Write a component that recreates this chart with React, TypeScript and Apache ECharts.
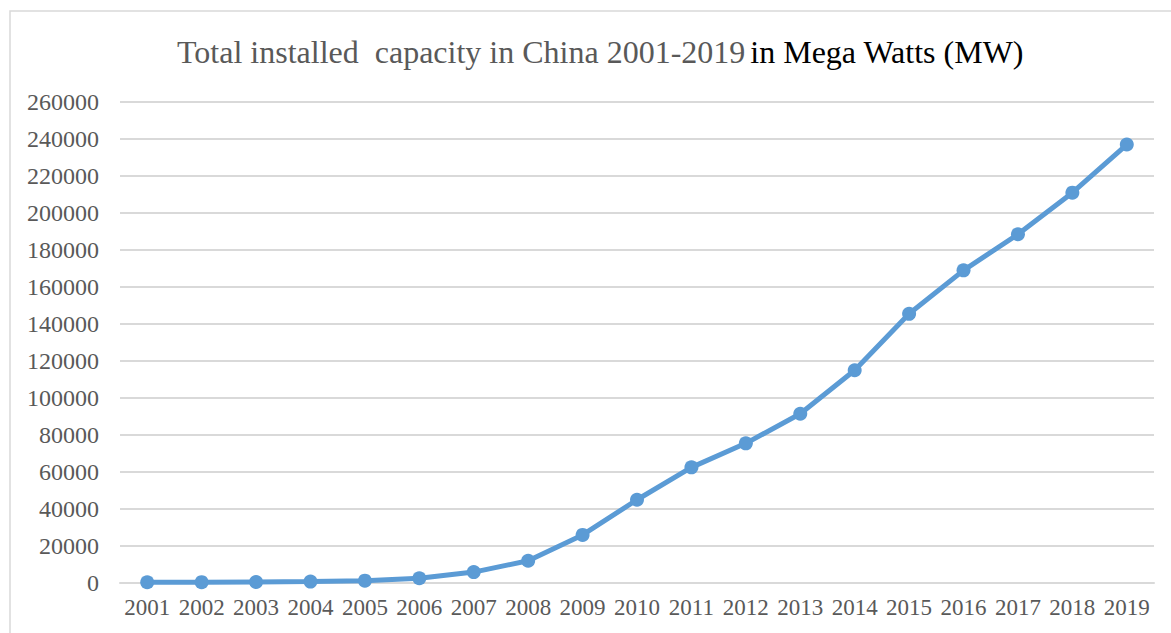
import React, { useEffect, useRef } from "react";
import * as echarts from "echarts";

// Installed capacity, MW, by year
const years = [
  "2001", "2002", "2003", "2004", "2005", "2006", "2007", "2008", "2009", "2010",
  "2011", "2012", "2013", "2014", "2015", "2016", "2017", "2018", "2019",
];
const capacityMW = [
  400, 470, 570, 760, 1260, 2600, 5900, 12000, 26000, 45000,
  62500, 75500, 91500, 115000, 145500, 169000, 188500, 211000, 237000,
];
const yMin = 0;
const yMax = 260000;
const yStep = 20000;

const titleMain = "Total installed  capacity in China 2001-2019";
const titleUnit = "in Mega Watts (MW)";

const FONT = "'Liberation Serif', 'Times New Roman', serif";
const GREY = "#595959";

export default function App() {
  const ref = useRef<HTMLDivElement>(null);

  useEffect(() => {
    if (!ref.current) return;
    const chart = echarts.init(ref.current, null, { renderer: "svg" });
    chart.setOption({
      animation: false,
      backgroundColor: "#ffffff",
      title: {
        text: `{a|${titleMain}} {b|${titleUnit}}`,
        left: 172,
        top: 31,
        textStyle: {
          rich: {
            a: { fontFamily: FONT, fontSize: 32, fontWeight: "normal", color: GREY },
            b: { fontFamily: FONT, fontSize: 32, fontWeight: "normal", color: "#000000" },
          },
        },
      },
      graphic: [
        {
          type: "rect",
          shape: { x: 10, y: 11, width: 1180, height: 640 },
          style: { fill: "none", stroke: "#d9d9d9", lineWidth: 1.5 },
          silent: true,
        },
      ],
      grid: { left: 120, right: 17, top: 102, bottom: 50, containLabel: false },
      xAxis: {
        type: "category",
        data: years,
        boundaryGap: true,
        axisLine: { show: true, lineStyle: { color: "#d9d9d9", width: 2 } },
        axisTick: { show: false },
        axisLabel: {
          color: GREY,
          fontFamily: FONT,
          fontSize: 23,
          margin: 13,
          interval: 0,
        },
      },
      yAxis: {
        type: "value",
        min: yMin,
        max: yMax,
        interval: yStep,
        axisLine: { show: false },
        axisTick: { show: false },
        splitLine: { lineStyle: { color: "#d9d9d9", width: 2 } },
        axisLabel: {
          color: GREY,
          fontFamily: FONT,
          fontSize: 24,
          margin: 21,
          formatter: (v: number) => String(v),
        },
      },
      series: [
        {
          type: "line",
          data: capacityMW,
          symbol: "circle",
          symbolSize: 14,
          lineStyle: { color: "#5b9bd5", width: 5 },
          itemStyle: { color: "#5b9bd5" },
        },
      ],
    });
    return () => chart.dispose();
  }, []);

  return (
    <div
      ref={ref}
      style={{ position: "fixed", left: 0, top: 0, width: 1171, height: 633 }}
    />
  );
}
